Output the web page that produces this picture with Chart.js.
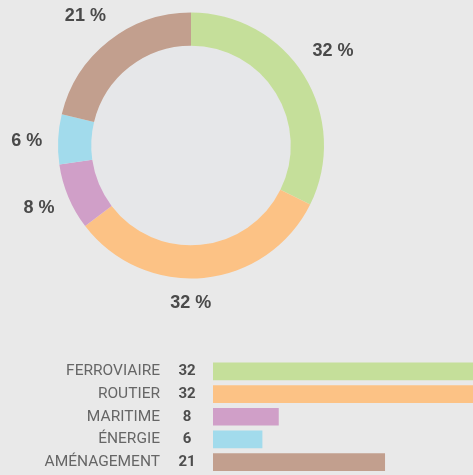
<!DOCTYPE html>
<html lang="fr">
<head>
<meta charset="utf-8">
<script src="https://cdn.jsdelivr.net/npm/chart.js@4"></script>
<style>
  html, body { margin: 0; padding: 0; background: #e9e9e9; overflow: hidden; }
  #wrap { position: relative; width: 473px; height: 475px; }
  #donut { position: absolute; left: 0; top: 0; }
  #bars { position: absolute; left: 0; top: 350px; }
</style>
</head>
<body>
<div id="wrap">
  <canvas id="donut" width="473" height="330"></canvas>
  <canvas id="bars" width="473" height="125"></canvas>
</div>
<script>
const categories = ['FERROVIAIRE', 'ROUTIER', 'MARITIME', 'ÉNERGIE', 'AMÉNAGEMENT'];
const values = [32, 32, 8, 6, 21];
const colors = ['#c5df9a', '#fcc285', '#d09fc8', '#a2dbec', '#c29f8e'];

// petits décalages des libellés % par rapport au milieu de l'arc
const labelShift = [[1, -7], [-16, -8], [1, -1.5], [1.5, 3.5], [-3, 1]];

const pctLabels = {
    id: 'pctLabels',
    beforeDatasetsDraw(chart) {
        const arc = chart.getDatasetMeta(0).data[0];
        if (!arc) return;
        const ctx = chart.ctx;
        ctx.save();
        ctx.fillStyle = '#e6e7e9';
        ctx.beginPath();
        ctx.arc(arc.x, arc.y, arc.innerRadius, 0, Math.PI * 2);
        ctx.fill();
        ctx.restore();
    },
    afterDatasetsDraw(chart) {
        const ctx = chart.ctx;
        const arcs = chart.getDatasetMeta(0).data;
        ctx.save();
        ctx.font = 'bold 18px "Liberation Sans", Arial, sans-serif';
        ctx.fillStyle = '#4a4a4a';
        ctx.textAlign = 'center';
        ctx.textBaseline = 'middle';
        arcs.forEach((a, i) => {
            const mid = (a.startAngle + a.endAngle) / 2;
            const r = 166;
            const x = a.x + Math.cos(mid) * r + labelShift[i][0];
            const y = a.y + Math.sin(mid) * r + labelShift[i][1];
            ctx.fillText(values[i] + ' %', x, y);
        });
        ctx.restore();
    }
};

new Chart(document.getElementById('donut'), {
    type: 'doughnut',
    data: {
        labels: categories,
        datasets: [{
            data: values,
            backgroundColor: colors,
            borderWidth: 0
        }]
    },
    options: {
        responsive: false,
        animation: false,
        cutout: '75%',
        layout: { padding: { left: 58, top: 12.5, right: 149, bottom: 51.5 } },
        plugins: { legend: { display: false }, tooltip: { enabled: false } }
    },
    plugins: [pctLabels]
});

// libellés et valeurs à gauche des barres
const rowLabels = {
    id: 'rowLabels',
    afterDraw(chart) {
        const ctx = chart.ctx;
        const y = chart.scales.y;
        ctx.save();
        ctx.textBaseline = 'middle';
        categories.forEach((c, i) => {
            const py = y.getPixelForValue(i);
            ctx.font = '15.5px Roboto, "Liberation Sans", sans-serif';
            ctx.fillStyle = '#666666';
            ctx.textAlign = 'right';
            ctx.fillText(c, 160, py);
            ctx.font = 'bold 15px Roboto, "Liberation Sans", sans-serif';
            ctx.fillStyle = '#4d4d4d';
            ctx.textAlign = 'center';
            ctx.fillText(String(values[i]), 187, py);
        });
        ctx.restore();
    }
};

new Chart(document.getElementById('bars'), {
    type: 'bar',
    data: {
        labels: categories,
        datasets: [{
            data: values,
            backgroundColor: colors,
            borderWidth: 0,
            barThickness: 17
        }]
    },
    options: {
        indexAxis: 'y',
        responsive: false,
        animation: false,
        layout: { padding: { left: 213, right: 0, top: 10, bottom: 1.5 } },
        scales: {
            x: { display: false, min: 0, max: 31.8 },
            y: { display: false }
        },
        plugins: { legend: { display: false }, tooltip: { enabled: false } }
    },
    plugins: [rowLabels]
});
</script>
</body>
</html>
